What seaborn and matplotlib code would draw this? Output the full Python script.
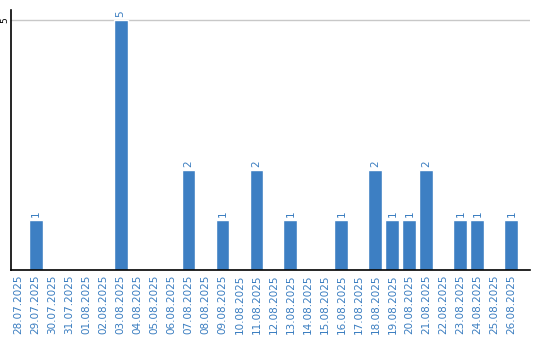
import matplotlib
matplotlib.use("Agg")
import matplotlib.pyplot as plt
import seaborn as sns
import pandas as pd

dates = ["28.07.2025", "29.07.2025", "30.07.2025", "31.07.2025", "01.08.2025",
         "02.08.2025", "03.08.2025", "04.08.2025", "05.08.2025", "06.08.2025",
         "07.08.2025", "08.08.2025", "09.08.2025", "10.08.2025", "11.08.2025",
         "12.08.2025", "13.08.2025", "14.08.2025", "15.08.2025", "16.08.2025",
         "17.08.2025", "18.08.2025", "19.08.2025", "20.08.2025", "21.08.2025",
         "22.08.2025", "23.08.2025", "24.08.2025", "25.08.2025", "26.08.2025"]
counts = [0, 1, 0, 0, 0, 0, 5, 0, 0, 0, 2, 0, 1, 0, 2, 0, 1, 0, 0, 1,
          0, 2, 1, 1, 2, 0, 1, 1, 0, 1]
yticks = [5]

sns.set_style("white")
plt.rcParams['font.family'] = ['DejaVu Sans']

df = pd.DataFrame({"date": dates, "count": counts})
fig = plt.figure(figsize=(5.4, 3.4), dpi=100)
ax = fig.add_axes([11/540, 70/340, 519/540, 260/340])
blue = "#3d7fc3"
sns.barplot(data=df, x="date", y="count", color=blue, width=0.82,
            saturation=1, ax=ax)
ax.set_xlim(-0.45, 30.1)
ax.set_ylim(0, 5.2)
ax.set_yticks(yticks)
ax.set_yticklabels([str(t) for t in yticks], rotation=90, va="center",
                   fontsize=6.5, color="black")
ax.yaxis.grid(True, color="#c8c8c8", linewidth=1)
ax.set_axisbelow(True)
ax.tick_params(axis="x", labelrotation=90, labelsize=7.5, labelcolor="#3a7dc0",
               length=0, pad=3)
ax.tick_params(axis="y", length=0, pad=1)
ax.set_xlabel("")
ax.set_ylabel("")
for s in ["top", "right"]:
    ax.spines[s].set_visible(False)
for s in ["left", "bottom"]:
    ax.spines[s].set_color("black")
    ax.spines[s].set_linewidth(1.2)
labels = [str(c) if c else "" for c in counts]
ax.bar_label(ax.containers[0], labels=labels, rotation=90, fontsize=7.5,
             color="#3a7dc0", padding=2)
fig.savefig("out.png", dpi=100)
